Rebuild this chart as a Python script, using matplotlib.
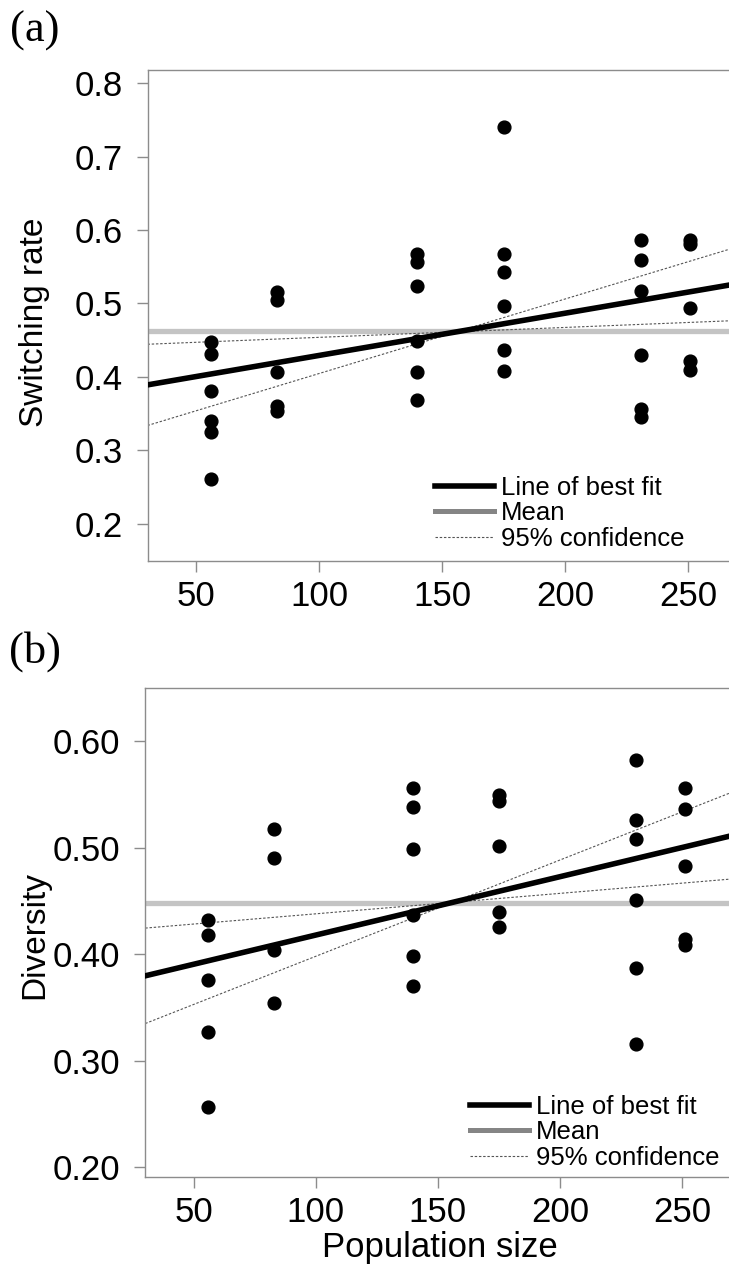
import numpy as np
import matplotlib
matplotlib.use("Agg")
import matplotlib.pyplot as plt
from matplotlib.lines import Line2D

plt.rcParams['font.family'] = ['Liberation Sans', 'DejaVu Sans']

# ---------------- data ----------------
pop_levels = [56, 83, 140, 175, 231, 251]

switch_x = [56, 56, 56, 56, 56, 56,
            83, 83, 83, 83, 83,
            140, 140, 140, 140, 140, 140,
            175, 175, 175, 175, 175, 175,
            231, 231, 231, 231, 231, 231,
            251, 251, 251, 251, 251]
switch_y = [0.447, 0.431, 0.381, 0.340, 0.325, 0.261,
            0.516, 0.505, 0.406, 0.360, 0.354,
            0.567, 0.556, 0.524, 0.449, 0.406, 0.369,
            0.741, 0.567, 0.543, 0.497, 0.436, 0.408,
            0.586, 0.559, 0.517, 0.430, 0.356, 0.345,
            0.587, 0.581, 0.494, 0.421, 0.409]

div_x = [56, 56, 56, 56, 56,
         83, 83, 83, 83,
         140, 140, 140, 140, 140, 140,
         175, 175, 175, 175, 175,
         231, 231, 231, 231, 231, 231,
         251, 251, 251, 251, 251]
div_y = [0.432, 0.418, 0.376, 0.327, 0.257,
         0.518, 0.490, 0.404, 0.354,
         0.556, 0.538, 0.499, 0.437, 0.398, 0.370,
         0.550, 0.544, 0.502, 0.440, 0.426,
         0.582, 0.526, 0.508, 0.451, 0.387, 0.316,
         0.556, 0.536, 0.483, 0.414, 0.409]

# fitted lines: [intercept, slope], mean, CI half-width slope
switch_fit = [0.3716, 0.000575]
switch_mean = 0.4625
switch_ci_halfslope = 0.00044

div_fit = [0.3633, 0.000548]
div_mean = 0.4481
div_ci_halfslope = 0.000356

x_ticks = [50, 100, 150, 200, 250]
switch_ticks = [0.2, 0.3, 0.4, 0.5, 0.6, 0.7, 0.8]
switch_ticklabels = ['0.2', '0.3', '0.4', '0.5', '0.6', '0.7', '0.8']
div_ticks = [0.20, 0.30, 0.40, 0.50, 0.60]
div_ticklabels = ['0.20', '0.30', '0.40', '0.50', '0.60']
legend_labels = ['Line of best fit', 'Mean', '95% confidence']

# ---------------- figure ----------------
W, H = 729, 1274
fig = plt.figure(figsize=(W / 100, H / 100), dpi=100)

def px_axes(left, top, right, bottom):
    return fig.add_axes([left / W, 1 - bottom / H, (right - left) / W, (bottom - top) / H])

ax1 = px_axes(147.5, 70, 731, 561)
ax2 = px_axes(145.3, 688, 731, 1177)

spine_col = '#8c8c8c'
CI_STYLE = (0, (2.2, 1.6))


def draw_panel(ax, xs, ys, fit, mean, ci_half, xlim, ylim, yticks, yticklabels, leg_anchor):
    ax.set_xlim(*xlim)
    ax.set_ylim(*ylim)
    xbar = float(np.mean(pop_levels))
    ybar_fit = fit[0] + fit[1] * xbar
    ax.axhline(mean, color='#c4c4c4', lw=3.8, zorder=1)
    for s in (fit[1] - ci_half, fit[1] + ci_half):
        ax.axline((xbar, ybar_fit), slope=s, color='#555555', lw=0.8,
                  linestyle=CI_STYLE, zorder=2)
    ax.axline((0, fit[0]), slope=fit[1], color='black', lw=4.0, zorder=3)
    ax.plot(xs, ys, 'o', color='black', markersize=9.2, zorder=4)

    ax.set_xticks(x_ticks)
    ax.set_xticklabels([str(t) for t in x_ticks])
    ax.set_yticks(yticks)
    ax.set_yticklabels(yticklabels)
    ax.tick_params(axis='both', direction='out', length=8, width=1, color=spine_col,
                   labelsize=25, labelcolor='black')
    ax.tick_params(axis='y', pad=10)
    ax.tick_params(axis='x', pad=6)
    for sp in ax.spines.values():
        sp.set_color(spine_col)
        sp.set_linewidth(1.0)

    handles = [Line2D([], [], color='black', lw=4.0),
               Line2D([], [], color='#858585', lw=3.6),
               Line2D([], [], color='#555555', lw=0.8, linestyle=CI_STYLE)]
    ax.legend(handles, legend_labels, loc='lower left', bbox_to_anchor=leg_anchor,
              frameon=False, fontsize=18.5, handlelength=2.3, handletextpad=0.25,
              labelspacing=0.06, borderpad=0, borderaxespad=0)


draw_panel(ax1, switch_x, switch_y, switch_fit, switch_mean, switch_ci_halfslope,
           (30.2, 267.5), (0.149, 0.818), switch_ticks, switch_ticklabels,
           ((435 - 147.5) / 583.5, (561 - 551) / 491))
draw_panel(ax2, div_x, div_y, div_fit, div_mean, div_ci_halfslope,
           (30.2, 270.0), (0.191, 0.650), div_ticks, div_ticklabels,
           ((470 - 145.3) / 585.7, (1177 - 1170) / 489))

fig.text(35 / W, 1 - 322 / H, 'Switching rate', rotation=90, ha='center', va='center', fontsize=24)
fig.text(35 / W, 1 - 935 / H, 'Diversity', rotation=90, ha='center', va='center', fontsize=24)
fig.text(440 / W, 1 - 1248 / H, 'Population size', ha='center', va='center', fontsize=25)

fig.text(35 / W, 1 - 31 / H, '(a)', ha='center', va='center', fontsize=32, family='Liberation Serif')
fig.text(35 / W, 1 - 652 / H, '(b)', ha='center', va='center', fontsize=32, family='Liberation Serif')

fig.savefig('out.png', dpi=100)
